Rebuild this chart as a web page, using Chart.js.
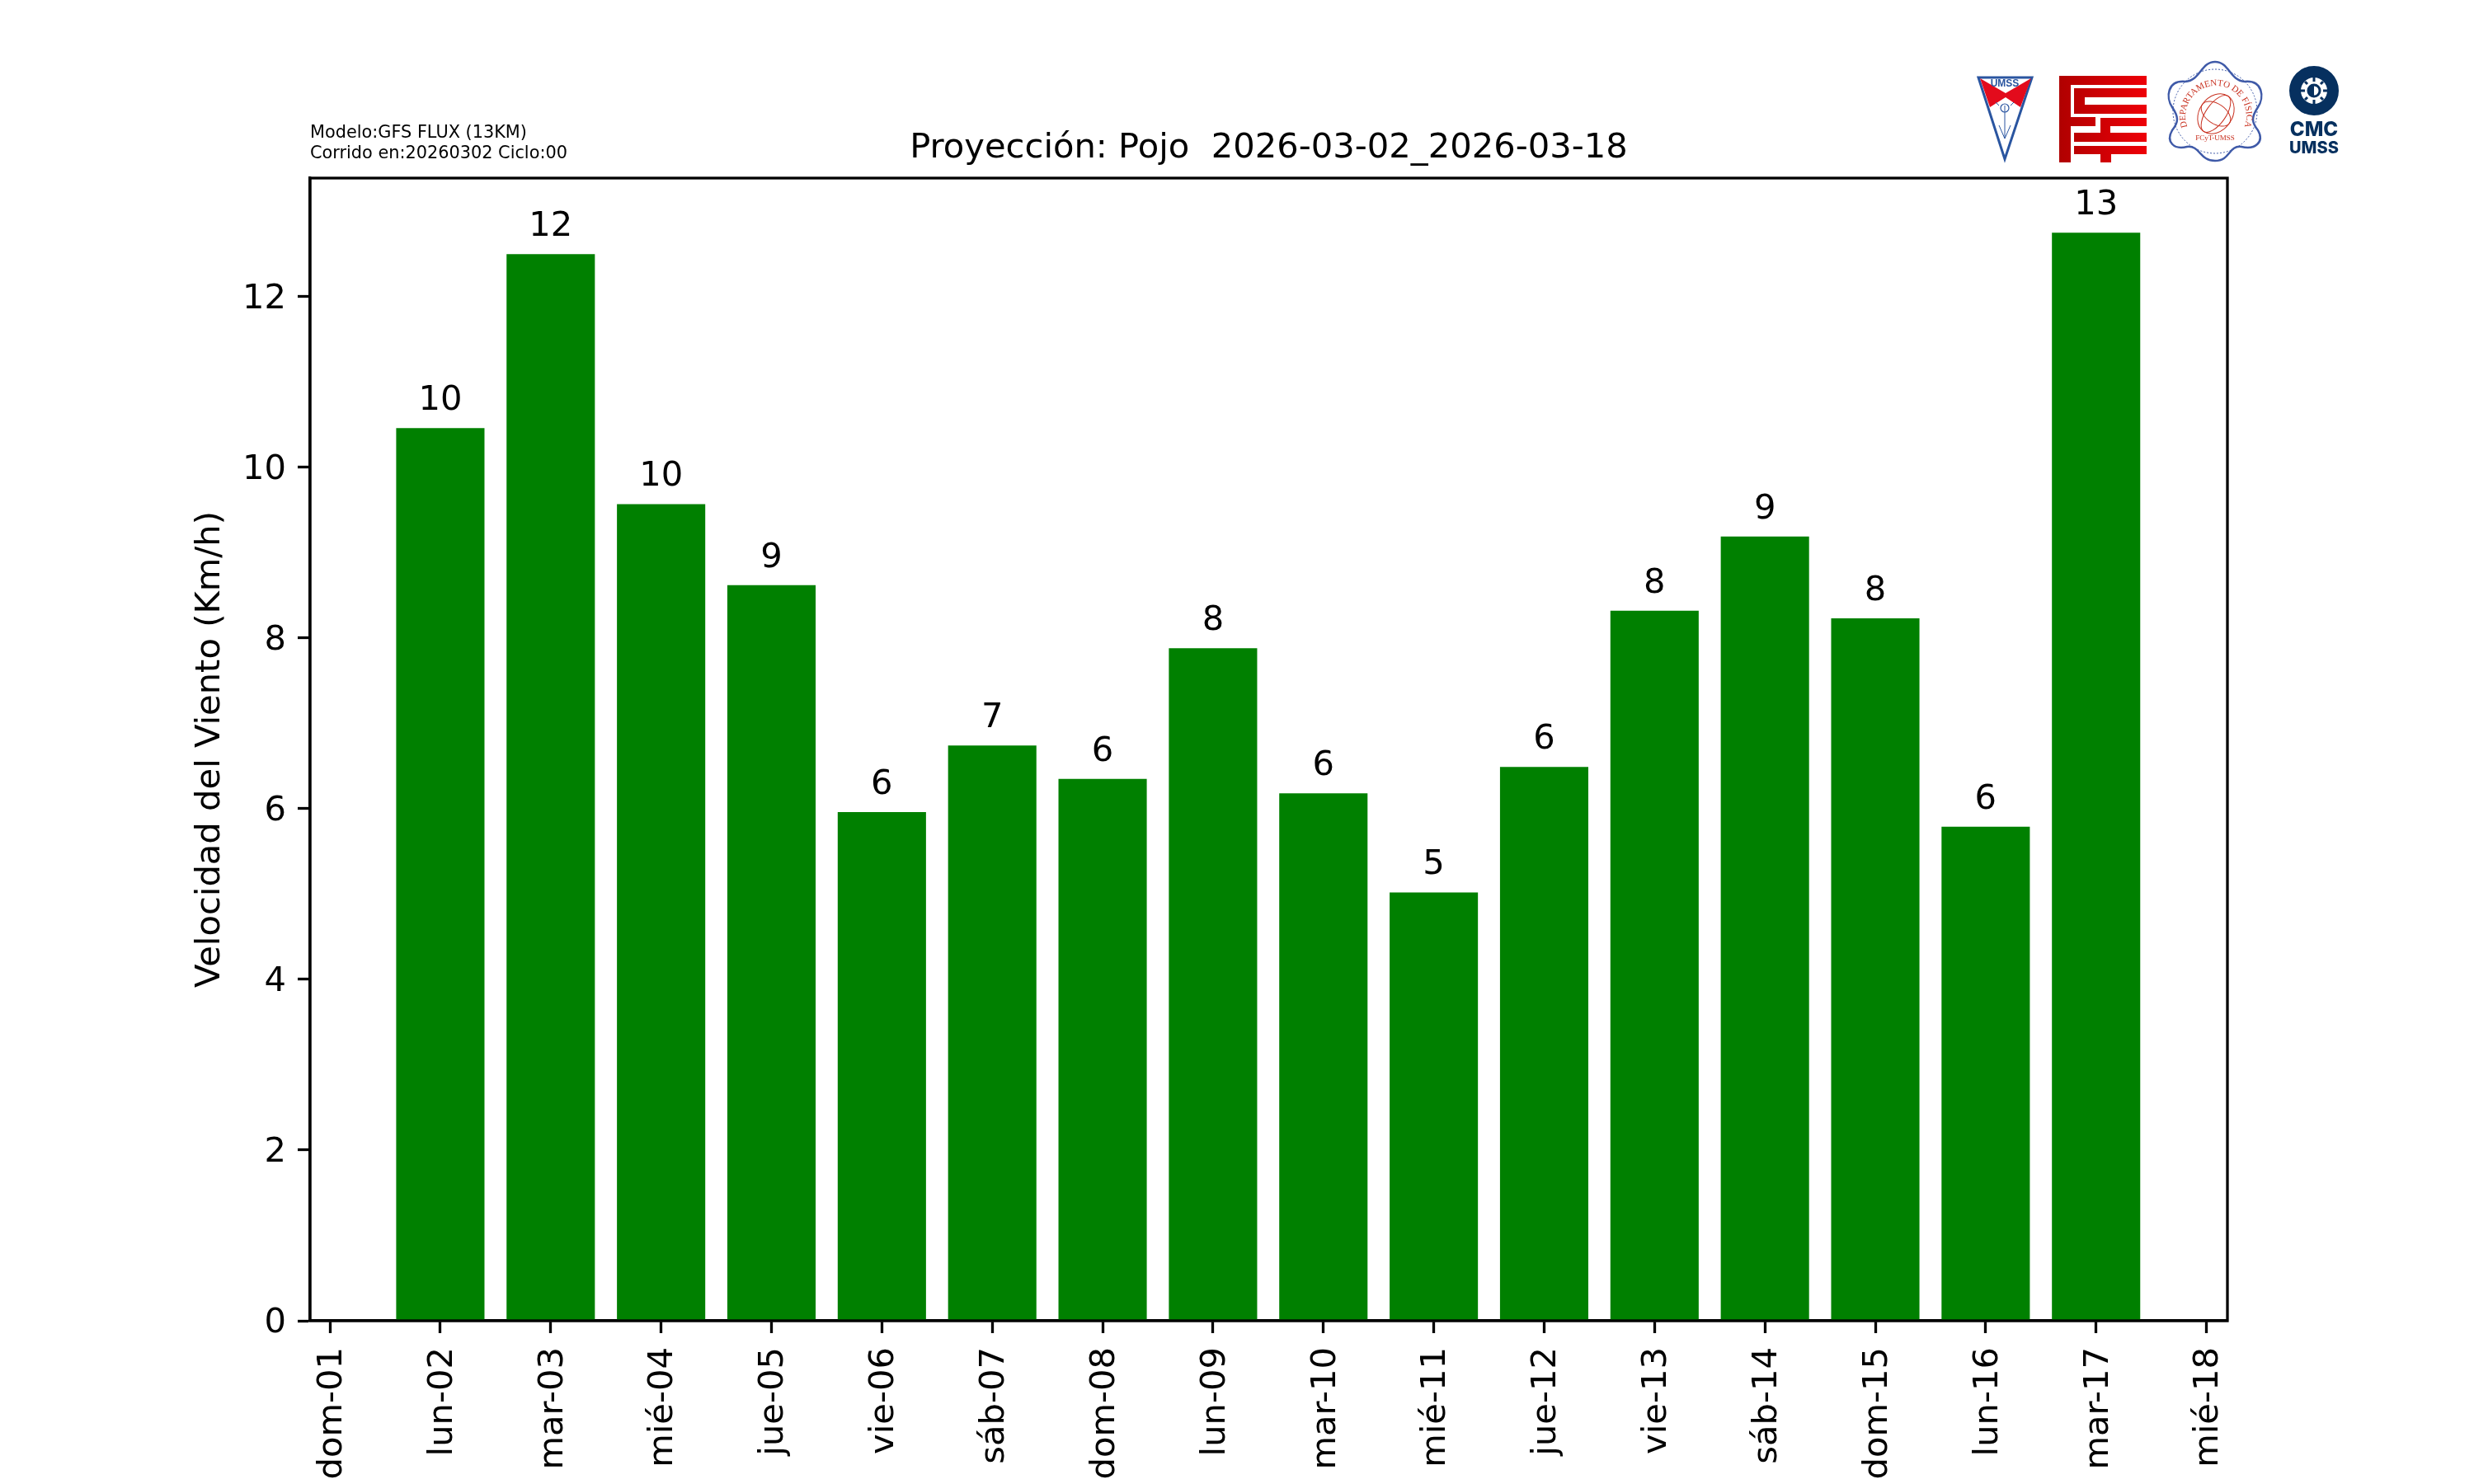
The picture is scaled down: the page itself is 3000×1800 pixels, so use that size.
<!DOCTYPE html>
<html>
<head>
<meta charset="utf-8">
<title>Proyección: Pojo</title>
<script src="https://cdn.jsdelivr.net/npm/chart.js@4/dist/chart.umd.js"></script>
<style>
  html, body { margin: 0; padding: 0; background: #fff; }
  #wrap { position: relative; width: 3000px; height: 1800px; }
  #windChart { position: absolute; left: 0; top: 0; }
  #logos { position: absolute; left: 0; top: 0; }
</style>
</head>
<body>
<div id="wrap">
  <canvas id="windChart" width="3000" height="1800"></canvas>
  <!-- logos, just redrawn by hand -->
  <svg id="logos" width="3000" height="1800" viewBox="0 0 3000 1800">
    <polygon points="2399,94 2464,94 2431,193" fill="#fff" stroke="#2a55a0" stroke-width="3"/>
    <polygon points="2401,95 2432,113 2463,95 2450,130 2432,118 2413,130" fill="#e30b1c"/>
    <text x="2431" y="105" font-family="Liberation Sans" font-weight="bold" font-size="12" fill="#2a55a0" text-anchor="middle">UMSS</text>
    <path d="M2431 128 V168 M2431 168 l-7 -16 M2431 168 l7 -16 M2424 128 l-4 -4 M2438 128 l4 -4" stroke="#2a55a0" stroke-width="1" fill="none"/>
    <circle cx="2431" cy="131" r="5" fill="none" stroke="#2a55a0" stroke-width="1.2"/>
    <defs>
      <linearGradient id="fctRed" x1="0" x2="1" y1="0" y2="0">
        <stop offset="0" stop-color="#b00000"/>
        <stop offset="1" stop-color="#ee0008"/>
      </linearGradient>
    </defs>
    <path fill="url(#fctRed)" d="M2497 92 H2603 V103 H2511 V142 H2541 V153 H2511 V197 H2497 Z
      M2515 107 H2603 V118 H2528 V127 H2603 V138 H2515 Z
      M2547 143 H2603 V153 H2559 V161 H2603 V172 H2515 V161 H2547 Z
      M2515 177 H2603 V187 H2560 V197 H2547 V187 H2515 Z"/>
    <path fill="none" stroke="#3f5aa8" stroke-width="2.5" d="M2686 75 C2703 75 2704 98 2722 99 C2744 97 2746 118 2738 130 C2730 142 2730 148 2738 158 C2746 172 2735 182 2718 178 C2702 176 2705 195 2686 195 C2667 195 2668 176 2652 178 C2636 182 2626 172 2634 158 C2642 148 2642 142 2634 130 C2626 118 2628 97 2650 99 C2668 98 2669 75 2686 75 Z"/>
    <circle cx="2686" cy="135" r="51" fill="none" stroke="#3f5aa8" stroke-width="1" stroke-dasharray="2 2"/>
    <path id="deptArc" fill="none" d="M2655 159.5 A37 37 0 1 1 2719 159.5"/>
    <text font-family="Liberation Serif" font-size="11" fill="#c8301f"><textPath href="#deptArc" startOffset="50%" text-anchor="middle">DEPARTAMENTO DE FÍSICA</textPath></text>
    <ellipse cx="2687" cy="138" rx="20" ry="26" fill="none" stroke="#c8301f" stroke-width="1" transform="rotate(35 2687 138)"/>
    <ellipse cx="2687" cy="138" rx="12" ry="26" fill="none" stroke="#c8301f" stroke-width="1" transform="rotate(35 2687 138)"/>
    <ellipse cx="2687" cy="138" rx="20" ry="12" fill="none" stroke="#c8301f" stroke-width="1" transform="rotate(35 2687 138)"/>
    <text x="2686" y="170" font-family="Liberation Serif" font-size="9" fill="#c8301f" text-anchor="middle">FCyT-UMSS</text>
    <circle cx="2806" cy="110" r="23" fill="none" stroke="#06305f" stroke-width="14"/>
    <circle cx="2806" cy="110" r="7" fill="none" stroke="#06305f" stroke-width="3"/>
    <path d="M2806 103 a7 7 0 0 0 0 14 Z" fill="#06305f"/>
    <path d="M2806 94 v5 M2806 121 v5 M2790 110 h5 M2817 110 h5 M2795 99 l3 3 M2814 118 l3 3 M2795 121 l3 -3 M2814 102 l3 -3" stroke="#06305f" stroke-width="3"/>
    <text x="2806" y="165" font-family="Inter" font-weight="800" font-size="24" fill="#06305f" text-anchor="middle">CMC</text>
    <text x="2806" y="186" font-family="Inter" font-weight="800" font-size="20" fill="#06305f" text-anchor="middle">UMSS</text>
  </svg>
</div>
<script>
// datos
const dayLabels = ["dom-01", "lun-02", "mar-03", "mié-04", "jue-05", "vie-06", "sáb-07", "dom-08", "lun-09",
  "mar-10", "mié-11", "jue-12", "vie-13", "sáb-14", "dom-15", "lun-16", "mar-17", "mié-18"];
const dayIndex = [1, 2, 3, 4, 5, 6, 7, 8, 9, 10, 11, 12, 13, 14, 15, 16];
const windSpeed = [10.46, 12.499, 9.57, 8.62, 5.96, 6.74, 6.35, 7.88, 6.18, 5.02, 6.49, 8.32, 9.19, 8.23, 5.79, 12.75];
const speedTicks = [0, 2, 4, 6, 8, 10, 12];
const infoLines = ["Modelo:GFS FLUX (13KM)", "Corrido en:20260302 Ciclo:00"];

const FONT = "'DejaVu Sans'";

// marco completo, los ejes solo pintan un lado
const framePlugin = {
  id: "frame",
  afterDatasetsDraw(chart) {
    const { ctx, chartArea: a } = chart;
    ctx.save();
    ctx.strokeStyle = "#000";
    ctx.lineWidth = 3.3;
    ctx.strokeRect(a.left, a.top, a.right - a.left, a.bottom - a.top);
    ctx.restore();
  }
};

// valor redondeado encima de cada barra
const barLabelPlugin = {
  id: "barLabels",
  afterDatasetsDraw(chart) {
    const { ctx } = chart;
    ctx.save();
    ctx.fillStyle = "#000";
    ctx.font = "41.67px " + FONT;
    ctx.textAlign = "center";
    ctx.textBaseline = "alphabetic";
    chart.getDatasetMeta(0).data.forEach((bar, i) => {
      ctx.fillText(String(Math.round(windSpeed[i])), bar.x, bar.y - 22);
    });
    ctx.restore();
  }
};

const infoPlugin = {
  id: "info",
  afterDraw(chart) {
    const { ctx, chartArea: a } = chart;
    ctx.save();
    ctx.fillStyle = "#000";
    ctx.font = "20.83px " + FONT;
    ctx.textBaseline = "alphabetic";
    infoLines.forEach((line, i) => ctx.fillText(line, a.left, 167 + i * 25));
    ctx.restore();
  }
};

// canvas centra el texto un poco mas arriba que matplotlib
const labelNudgePlugin = {
  id: "labelNudge",
  beforeDraw(chart) {
    chart.scales.y.getLabelItems().forEach((item) => { item.options.translation[1] += 3; });
    chart.scales.x.getLabelItems().forEach((item) => { item.options.translation[0] += 3; });
  }
};

const ctx = document.getElementById("windChart");
const windChart = new Chart(ctx, {
  type: "bar",
  data: {
    datasets: [{
      data: dayIndex.map((d, i) => ({ x: d, y: windSpeed[i] })),
      backgroundColor: "#008000",
      barPercentage: 0.8,
      categoryPercentage: 1
    }]
  },
  plugins: [framePlugin, barLabelPlugin, infoPlugin, labelNudgePlugin],
  options: {
    responsive: false,
    animation: false,
    layout: { padding: { top: 0, right: 299, bottom: 0, left: 0 } },
    plugins: {
      legend: { display: false },
      tooltip: { enabled: false },
      title: {
        display: true,
        fullSize: false,
        text: "Proyección: Pojo  2026-03-02_2026-03-18",
        color: "#000",
        font: { family: FONT, size: 41.67, weight: "normal" },
        padding: { top: 155, bottom: 11 }
      }
    },
    scales: {
      x: {
        type: "linear",
        offset: false,
        min: -0.18,
        max: 17.19,
        afterBuildTicks(scale) { scale.ticks = dayLabels.map((_, i) => ({ value: i })); },
        afterFit(scale) { scale.height = 198; },
        ticks: {
          autoSkip: false,
          minRotation: 90,
          maxRotation: 90,
          padding: 17,
          color: "#000",
          font: { family: FONT, size: 41.67 },
          callback: (v) => dayLabels[v]
        },
        grid: { offset: false, drawOnChartArea: false, tickLength: 15, tickWidth: 3.3, tickColor: "#000" },
        border: { color: "#000", width: 3.3 }
      },
      y: {
        min: 0,
        max: 13.39,
        afterBuildTicks(scale) { scale.ticks = speedTicks.map((v) => ({ value: v })); },
        afterFit(scale) { scale.width = 376; },
        title: {
          display: true,
          text: "Velocidad del Viento (Km/h)",
          color: "#000",
          font: { family: FONT, size: 41.67, weight: "normal" },
          padding: { top: 230, bottom: 0 }
        },
        ticks: {
          padding: 14,
          color: "#000",
          font: { family: FONT, size: 41.67 }
        },
        grid: { drawOnChartArea: false, tickLength: 15, tickWidth: 3.3, tickColor: "#000" },
        border: { color: "#000", width: 3.3 }
      }
    }
  }
});
</script>
</body>
</html>
